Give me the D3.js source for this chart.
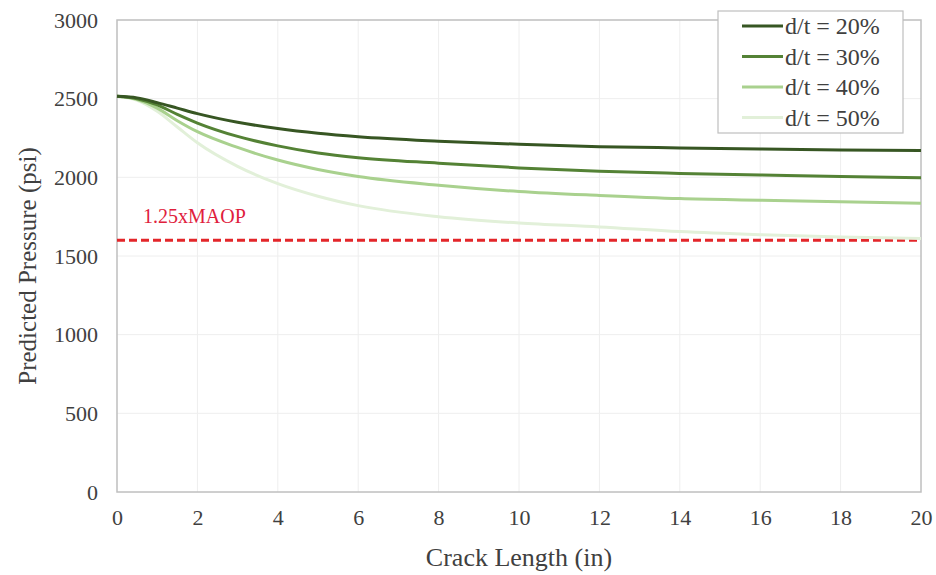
<!DOCTYPE html>
<html>
<head>
<meta charset="utf-8">
<script src="https://cdn.jsdelivr.net/npm/d3@7"></script>
<style>
  body { margin: 0; background: #fff; }
  text { font-family: "Liberation Serif", "DejaVu Serif", serif; fill: #404040; }
</style>
</head>
<body>
<div id="chart"></div>
<script>
// crack length (in)
const crackLength = [0, 0.5, 1, 1.5, 2, 3, 4, 5, 6, 8, 10, 12, 14, 16, 18, 20];

// predicted pressure (psi) per d/t ratio
const dt20 = [2515, 2505, 2475, 2440, 2405, 2350, 2310, 2280, 2258, 2230, 2210, 2195, 2187, 2180, 2174, 2170];
const dt30 = [2515, 2500, 2460, 2400, 2345, 2260, 2200, 2155, 2125, 2090, 2060, 2038, 2025, 2015, 2005, 1997];
const dt40 = [2515, 2495, 2440, 2360, 2290, 2190, 2110, 2050, 2005, 1950, 1910, 1885, 1865, 1855, 1845, 1835];
const dt50 = [2515, 2490, 2420, 2320, 2220, 2070, 1960, 1880, 1820, 1750, 1710, 1685, 1655, 1635, 1620, 1612];

const seriesNames = ["d/t = 20%", "d/t = 30%", "d/t = 40%", "d/t = 50%"];
const seriesColors = ["#375623", "#548235", "#a9d18e", "#e2f0d9"];

const maopValue = 1600;
const maopLabel = "1.25xMAOP";

const xTicks = [0, 2, 4, 6, 8, 10, 12, 14, 16, 18, 20];
const yTicks = [0, 500, 1000, 1500, 2000, 2500, 3000];

// dimensions
const margin = { top: 20, right: 15, bottom: 83, left: 117 };
const width = 936 - margin.left - margin.right;
const height = 575 - margin.top - margin.bottom;

const svg = d3.select("#chart")
  .append("svg")
  .attr("width", 936)
  .attr("height", 575)
  .append("g")
  .attr("transform", "translate(" + margin.left + "," + margin.top + ")");

const x = d3.scaleLinear().domain([0, 20]).range([0, width]);
const y = d3.scaleLinear().domain([0, 3000]).range([height, 0]);

// gridlines
svg.append("g")
  .selectAll("line")
  .data(xTicks.slice(1, -1))
  .enter()
  .append("line")
  .attr("x1", d => x(d)).attr("x2", d => x(d))
  .attr("y1", 0).attr("y2", height)
  .attr("stroke", "#eeeeee");

svg.append("g")
  .selectAll("line")
  .data(yTicks.slice(1, -1))
  .enter()
  .append("line")
  .attr("x1", 0).attr("x2", width)
  .attr("y1", d => y(d)).attr("y2", d => y(d))
  .attr("stroke", "#eeeeee");

// plot border
svg.append("rect")
  .attr("width", width)
  .attr("height", height)
  .attr("fill", "none")
  .attr("stroke", "#bfbfbf")
  .attr("stroke-width", 1.5);

// axes
const xAxis = svg.append("g")
  .attr("transform", "translate(0," + height + ")")
  .call(d3.axisBottom(x).tickValues(xTicks).tickFormat(d3.format("d")).tickSize(0).tickPadding(17));
xAxis.select(".domain").remove();
xAxis.selectAll("text").style("font-size", "22px").attr("fill", "#404040");

const yAxis = svg.append("g")
  .call(d3.axisLeft(y).tickValues(yTicks).tickFormat(d3.format("d")).tickSize(0).tickPadding(19));
yAxis.select(".domain").remove();
yAxis.selectAll("text").style("font-size", "22px").attr("fill", "#404040");

svg.append("text")
  .attr("x", width / 2)
  .attr("y", height + 74)
  .attr("text-anchor", "middle")
  .style("font-size", "26px")
  .text("Crack Length (in)");

svg.append("text")
  .attr("transform", "rotate(-90)")
  .attr("x", -height / 2 - 10)
  .attr("y", -81)
  .attr("text-anchor", "middle")
  .style("font-size", "25px")
  .text("Predicted Pressure (psi)");

// MAOP line
svg.append("line")
  .attr("x1", 0).attr("x2", width)
  .attr("y1", y(maopValue)).attr("y2", y(maopValue))
  .attr("stroke", "#e3262a")
  .attr("stroke-width", 3)
  .attr("stroke-dasharray", "8,4");

svg.append("text")
  .attr("x", 26)
  .attr("y", y(maopValue) - 17)
  .style("font-size", "20px")
  .style("fill", "#e0203c")
  .text(maopLabel);

// curves
const allSeries = [dt20, dt30, dt40, dt50];
const line = d3.line()
  .x((d, i) => x(crackLength[i]))
  .y(d => y(d))
  .curve(d3.curveMonotoneX);

svg.append("g")
  .selectAll("path")
  .data(allSeries.slice().reverse())
  .enter()
  .append("path")
  .attr("d", d => line(d))
  .attr("fill", "none")
  .attr("stroke", (d, i) => seriesColors[3 - i])
  .attr("stroke-width", 3);

// legend
const legend = svg.append("g")
  .attr("transform", "translate(" + (718 - margin.left) + "," + (11 - margin.top) + ")");

legend.append("rect")
  .attr("width", 185)
  .attr("height", 122)
  .attr("fill", "#fff")
  .attr("stroke", "#bfbfbf")
  .attr("stroke-width", 1.2);

const legendItems = legend.selectAll(".item")
  .data(seriesNames)
  .enter()
  .append("g")
  .attr("class", "item")
  .attr("transform", (d, i) => "translate(0," + (15 + i * 30.5) + ")");

legendItems.append("line")
  .attr("x1", 24).attr("x2", 65)
  .attr("y1", 0).attr("y2", 0)
  .attr("stroke", (d, i) => seriesColors[i])
  .attr("stroke-width", 3);

legendItems.append("text")
  .attr("x", 67)
  .attr("y", 8)
  .style("font-size", "24px")
  .text(d => d);
</script>
</body>
</html>
